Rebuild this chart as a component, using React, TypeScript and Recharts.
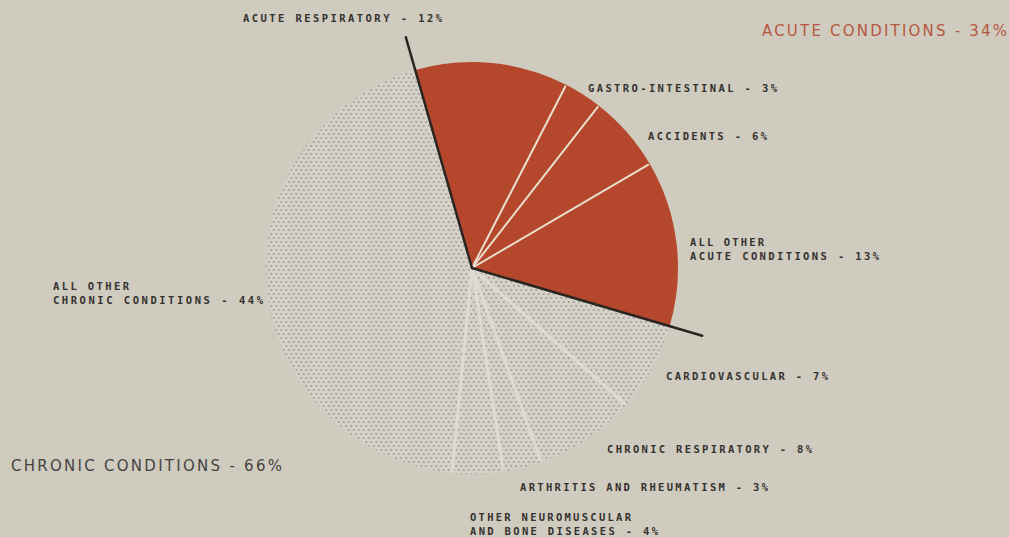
import { PieChart, Pie, Cell } from 'recharts'

// slices, clockwise from the acute/chronic boundary
const SLICE_NAMES = [
  'ACUTE RESPIRATORY', 'GASTRO-INTESTINAL', 'ACCIDENTS', 'ALL OTHER ACUTE CONDITIONS',
  'CARDIOVASCULAR', 'CHRONIC RESPIRATORY', 'ARTHRITIS AND RHEUMATISM',
  'OTHER NEUROMUSCULAR AND BONE DISEASES', 'ALL OTHER CHRONIC CONDITIONS',
]
const SLICE_VALUES = [12, 3, 6, 13, 7, 8, 3, 4, 44]
const SLICE_GROUP = ['acute', 'acute', 'acute', 'acute', 'chronic', 'chronic', 'chronic', 'chronic', 'chronic']

// label lines as printed
const LABEL_LINES = [
  ['ACUTE RESPIRATORY - 12%'],
  ['GASTRO-INTESTINAL - 3%'],
  ['ACCIDENTS - 6%'],
  ['ALL OTHER', 'ACUTE CONDITIONS - 13%'],
  ['CARDIOVASCULAR - 7%'],
  ['CHRONIC RESPIRATORY - 8%'],
  ['ARTHRITIS AND RHEUMATISM - 3%'],
  ['OTHER NEUROMUSCULAR', 'AND BONE DISEASES - 4%'],
  ['ALL OTHER', 'CHRONIC CONDITIONS - 44%'],
]
const GROUP_TITLES = ['ACUTE CONDITIONS - 34%', 'CHRONIC CONDITIONS - 66%']

// layout only
const W = 1009
const H = 537
const CX = 472
const CY = 268
const R = 206
const START = 106
const LABEL_POS: { x: number; y: number; w: number[] }[] = [
  { x: 243, y: 22, w: [199] },
  { x: 588, y: 92, w: [189] },
  { x: 648, y: 140, w: [119] },
  { x: 690, y: 246, w: [74, 189] },
  { x: 666, y: 380, w: [162] },
  { x: 607, y: 453, w: [205] },
  { x: 520, y: 491, w: [248] },
  { x: 470, y: 521, w: [161, 188] },
  { x: 53, y: 290, w: [76, 210] },
]
const TITLE_POS = [
  { x: 762, y: 36, w: 245, color: '#b8573f' },
  { x: 11, y: 471, w: 271, color: '#45433f' },
]

const BG = '#cfcbbf'
const RED = '#b4472c'

const data = SLICE_NAMES.map((name, i) => ({ name, value: SLICE_VALUES[i], group: SLICE_GROUP[i] }))

const toXY = (a: number, r: number) => {
  const rad = (a * Math.PI) / 180
  return [CX + r * Math.cos(rad), CY - r * Math.sin(rad)]
}

function Overlay() {
  const total = SLICE_VALUES.reduce((s, v) => s + v, 0)
  // boundary angle of every slice
  const bounds: number[] = []
  let acc = 0
  for (const v of SLICE_VALUES) {
    bounds.push(START - (acc / total) * 360)
    acc += v
  }
  const acute = SLICE_VALUES.filter((_, i) => SLICE_GROUP[i] === 'acute').reduce((s, v) => s + v, 0)
  const heavy = [START, START - (acute / total) * 360]
  return (
    <svg width={W} height={H} style={{ position: 'absolute', left: 0, top: 0, pointerEvents: 'none' }}>
      {bounds.map((a, i) => {
        if (i === 0 || i === 4) return null
        const [x, y] = toXY(a, R - 1)
        const isAcute = SLICE_GROUP[i] === 'acute'
        return (
          <line key={i} x1={CX} y1={CY} x2={x} y2={y}
            stroke={isAcute ? '#eadfcd' : '#dedbd3'} strokeWidth={isAcute ? 2 : 3} />
        )
      })}
      {heavy.map((a, i) => {
        const [x, y] = toXY(a, 240)
        return (
          <line key={i} x1={CX} y1={CY} x2={x} y2={y}
            stroke="#2a2521" strokeWidth={2.5} strokeLinecap="round" />
        )
      })}
      {LABEL_LINES.map((lines, i) =>
        lines.map((t, j) => (
          <text
            key={`${i}-${j}`}
            x={LABEL_POS[i].x}
            y={LABEL_POS[i].y + j * 14}
            textLength={LABEL_POS[i].w[j]}
            lengthAdjust="spacing"
            fontFamily="DejaVu Sans Mono"
            fontWeight="bold"
            fontSize={10.5}
            fill="#34322f"
          >
            {t}
          </text>
        ))
      )}
      {GROUP_TITLES.map((t, i) => (
        <text
          key={t}
          x={TITLE_POS[i].x}
          y={TITLE_POS[i].y}
          textLength={TITLE_POS[i].w}
          lengthAdjust="spacing"
          fontFamily="DejaVu Sans"
          fontSize={15}
          fill={TITLE_POS[i].color}
        >
          {t}
        </text>
      ))}
    </svg>
  )
}

export default function App() {
  return (
    <div style={{ position: 'fixed', left: 0, top: 0, width: W, height: H, background: BG }}>
      <svg width={0} height={0} style={{ position: 'absolute' }}>
        <defs>
          <pattern id="dots" width={5} height={8} patternUnits="userSpaceOnUse">
            <rect width={5} height={8} fill="#d5d2ca" />
            <circle cx={1.25} cy={2} r={1.1} fill="#a39f96" />
            <circle cx={3.75} cy={6} r={1.1} fill="#a39f96" />
          </pattern>
        </defs>
      </svg>
      <PieChart width={W} height={H} margin={{ top: 0, right: 0, bottom: 0, left: 0 }}>
        <Pie
          data={data}
          dataKey="value"
          nameKey="name"
          cx={CX}
          cy={CY}
          outerRadius={R}
          startAngle={START}
          endAngle={START - 360}
          isAnimationActive={false}
          label={false}
          labelLine={false}
        >
          {data.map((d) => (
            <Cell key={d.name} fill={d.group === 'acute' ? RED : 'url(#dots)'} stroke="none" />
          ))}
        </Pie>
      </PieChart>
      <Overlay />
    </div>
  )
}
